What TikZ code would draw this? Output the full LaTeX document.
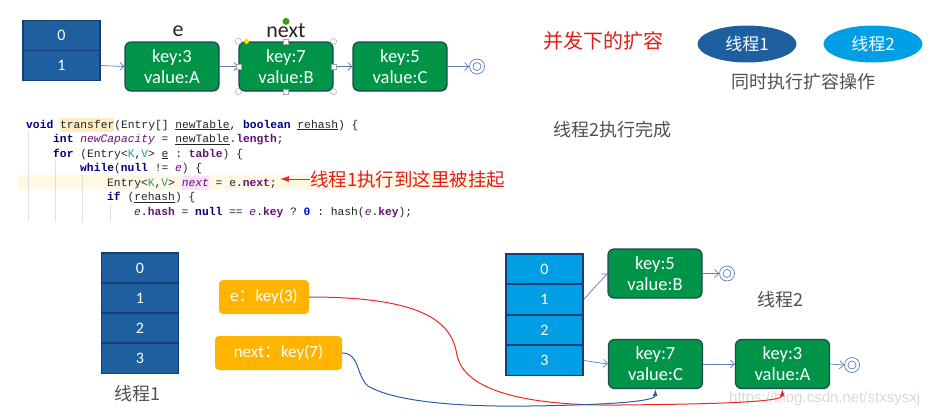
\documentclass[tikz,border=0pt]{standalone}
\usepackage{fontspec}
\setmainfont{Carlito}
\setmonofont{Liberation Mono}
\newfontfamily\cjk{Noto Sans CJK SC}
\newfontfamily\wmfont{Liberation Sans}
\usetikzlibrary{shapes.geometric,arrows.meta}

\definecolor{cellblue}{RGB}{30,95,160}
\definecolor{cellline}{RGB}{22,62,112}
\definecolor{lightcell}{RGB}{0,158,228}
\definecolor{entrygreen}{RGB}{0,148,72}
\definecolor{entryline}{RGB}{28,72,86}
\definecolor{linkblue}{RGB}{92,126,180}
\definecolor{amber}{RGB}{255,180,0}
\definecolor{redtext}{RGB}{222,30,20}
\definecolor{graytext}{RGB}{80,80,80}
\definecolor{codeblack}{RGB}{35,35,35}
\definecolor{kwnavy}{RGB}{0,0,128}
\definecolor{fieldpurple}{RGB}{102,14,122}
\definecolor{typeteal}{RGB}{32,153,157}
\definecolor{numblue}{RGB}{0,0,255}
\definecolor{hlline}{RGB}{255,249,228}
\definecolor{hlorange}{RGB}{255,236,196}
\definecolor{hlpink}{RGB}{250,226,250}
\definecolor{curvered}{RGB}{236,40,30}
\definecolor{curveblue}{RGB}{40,95,165}

\newcommand\jkw[1]{\textbf{\textcolor{kwnavy}{#1}}}
\newcommand\jfld[1]{\textbf{\textcolor{fieldpurple}{#1}}}
\newcommand\jtv[1]{\textcolor{typeteal}{#1}}
\newcommand\jvar[1]{\textit{\textcolor{fieldpurple}{#1}}}
\newcommand\jmark[2]{{\setlength{\fboxsep}{0pt}\colorbox{#1}{\strut #2}}}

\begin{document}
\begin{tikzpicture}[x=1pt, y=-1pt,
    cell/.style={draw=cellline, line width=1.2pt, fill=cellblue, text=white, minimum width=77pt, minimum height=30pt, inner sep=0pt, font=\fontsize{16}{18}\selectfont},
    entry/.style={draw=entryline, line width=1.2pt, fill=entrygreen, rounded corners=6pt, text=white, minimum width=94pt, minimum height=49pt, inner sep=0pt, align=center, font=\fontsize{18.5}{21}\selectfont},
    link/.style={draw=linkblue, line width=0.7pt, -{Straight Barb[length=4pt,width=8pt]}},
    nil/.style={circle, draw=linkblue, line width=0.7pt, minimum size=15pt, inner sep=0pt, path picture={\draw[linkblue, line width=0.7pt] (path picture bounding box.center) circle (4pt);}},
    ptr/.style={fill=amber, rounded corners=4pt, text=white, minimum height=34pt, inner sep=0pt, font=\fontsize{17}{20}\selectfont},
    thread/.style={ellipse, minimum width=99pt, minimum height=37pt, inner sep=0pt, text=white, font=\cjk\fontsize{17}{20}\selectfont},
    note/.style={text=graytext, inner sep=0pt, font=\cjk\fontsize{18}{20}\selectfont},
    code/.style={anchor=base west, inner sep=0pt, text=codeblack, font=\fontsize{11.3}{14}\selectfont\ttfamily},
    guide/.style={draw=gray!25, line width=0.5pt}]
  \useasboundingbox (0,0) rectangle (937,418);

  \node[cell] (oldT0) at (61.5,35.5) {0};
  \node[cell] (oldT1) at (61.5,65.5) {1};
  \node[entry] (oldA) at (172,66.5) {key:3\\value:A};
  \node[entry] (oldB) at (286,66.5) {key:7\\value:B};
  \node[entry] (oldC) at (400,66.5) {key:5\\value:C};
  \node[nil] (oldNil) at (477,66.5) {};
  \draw[link] (oldT1.east) -- (oldA.west);
  \draw[link] (oldA.east) -- (oldB.west);
  \draw[link] (oldB.east) -- (oldC.west);
  \draw[link] (oldC.east) -- (oldNil.west);
  \node[text=black!85, inner sep=0pt, font=\fontsize{22}{24}\selectfont] (eLabel) at (178,31) {e};
  \node[text=black!85, inner sep=0pt, font=\fontsize{22}{24}\selectfont] (nextLabel) at (286,31) {next};
  \foreach \p in {north west, north east, south west, south east}
    \draw[gray!70, line width=0.5pt, fill=white] (oldB.\p) circle (3pt);
  \foreach \p in {north, south, west, east}
    \draw[gray!70, line width=0.5pt, fill=white] ([shift={(-2.5,-2.5)}]oldB.\p) rectangle ++(5,5);
  \fill[green!55!black!80!yellow] ([yshift=20pt]oldB.north) circle (3.5pt);
  \fill[yellow!80!orange] ([xshift=8pt]oldB.north west) ++(0,-3) -- ++(3,3) -- ++(-3,3) -- ++(-3,-3) -- cycle;

  \fill[hlline] (18,175) rectangle (497,189);
  \draw[guide] (28,132) -- (28,222);
  \draw[guide] (55,161) -- (55,222);
  \draw[guide] (82,175) -- (82,222);
  \draw[guide] (110,204) -- (110,222);
  \node[code] (codeA) at (26,128) {\jkw{void} \jmark{hlorange}{transfer}(Entry[] \underline{newTable}, \jkw{boolean} \underline{rehash}) \{};
  \node[code] (codeB) at (53,142.5) {\jkw{int} \jvar{newCapacity} = \underline{newTable}.\jfld{length};};
  \node[code] (codeC) at (53,157) {\jkw{for} (Entry<\jtv{K},\jtv{V}> \underline{e} : \jfld{table}) \{};
  \node[code] (codeD) at (80,171.5) {\jkw{while}(\jkw{null} != \jvar{e}) \{};
  \node[code] (codeE) at (107,186) {Entry<\jtv{K},\jtv{V}> \jmark{hlpink}{\jvar{next}} = e.\jfld{next};};
  \node[code] (codeF) at (107,200.5) {\jkw{if} (\underline{rehash}) \{};
  \node[code] (codeG) at (134,215) {\jvar{e}.\jfld{hash} = \jkw{null} == \jvar{e}.\jfld{key} ? \textbf{\textcolor{numblue}{0}} : hash(\jvar{e}.\jfld{key});};
  \node[anchor=west, inner sep=0pt, text=redtext, font=\cjk\fontsize{18.5}{20}\selectfont] (hang) at (310,179) {线程1执行到这里被挂起};
  \draw[curvered, line width=1pt, -{Latex[length=9pt,width=6pt]}] (hang.west) -- ([xshift=3pt]hang.west -| codeE.east);

  \node[text=redtext, inner sep=0pt, font=\cjk\fontsize{20}{22}\selectfont] (title) at (603,41) {并发下的扩容};
  \node[thread, fill=cellblue] (th1) at (747,44) {线程1};
  \node[thread, fill=lightcell] (th2) at (873,44) {线程2};
  \node[note] (both) at (803,82) {同时执行扩容操作};
  \node[note, anchor=west] (done) at (553,130) {线程2执行完成};

  \node[cell] (t1c0) at (140,268) {0};
  \node[cell] (t1c1) at (140,298) {1};
  \node[cell] (t1c2) at (140,328) {2};
  \node[cell] (t1c3) at (140,358.5) {3};
  \node[note] (lbl1) at (137,394) {线程1};
  \node[ptr, minimum width=90pt] (ekey) at (264,297) {e{\cjk ：}key(3)};
  \node[ptr, minimum width=127pt] (nextkey) at (278.5,353) {next{\cjk ：}key(7)};

  \node[cell, fill=lightcell] (t2c0) at (544.5,269) {0};
  \node[cell, fill=lightcell] (t2c1) at (544.5,299.5) {1};
  \node[cell, fill=lightcell] (t2c2) at (544.5,330) {2};
  \node[cell, fill=lightcell] (t2c3) at (544.5,360.5) {3};
  \node[entry] (newB) at (655,273.5) {key:5\\value:B};
  \node[entry] (newC) at (655.5,364) {key:7\\value:C};
  \node[entry] (newA) at (782.5,364) {key:3\\value:A};
  \node[nil] (newNilB) at (727,273.5) {};
  \node[nil] (newNilA) at (852,365) {};
  \node[note] (lbl2) at (780,300) {线程2};
  \draw[link] (t2c1.east) -- (newB.west);
  \draw[link] (t2c3.east) -- (newC.west);
  \draw[link] (newB.east) -- (newNilB.west);
  \draw[link] (newC.east) -- (newA.west);
  \draw[link] (newA.east) -- (newNilA.west);

  \draw[curvered, line width=1pt, -{Latex[length=7pt,width=5pt]}] (ekey.east) .. controls (430,297) and (452,325) .. (457,355) .. controls (465,395) and (540,406) .. (620,405) .. controls (720,404) and (782,402) .. (newA.south);
  \draw[curveblue, line width=1pt, -{Latex[length=7pt,width=5pt]}] (nextkey.east) .. controls (360,353) and (356,376) .. (368,386) .. controls (395,402) and (460,407) .. (530,406) .. controls (600,405) and (655,402) .. (newC.south);

  \node[anchor=west, inner sep=0pt, text=gray, text opacity=0.3, font=\wmfont\fontsize{15}{18}\selectfont] (mark) at (729,399) {https://blog.csdn.net/stxsysxj};
\end{tikzpicture}
\end{document}
